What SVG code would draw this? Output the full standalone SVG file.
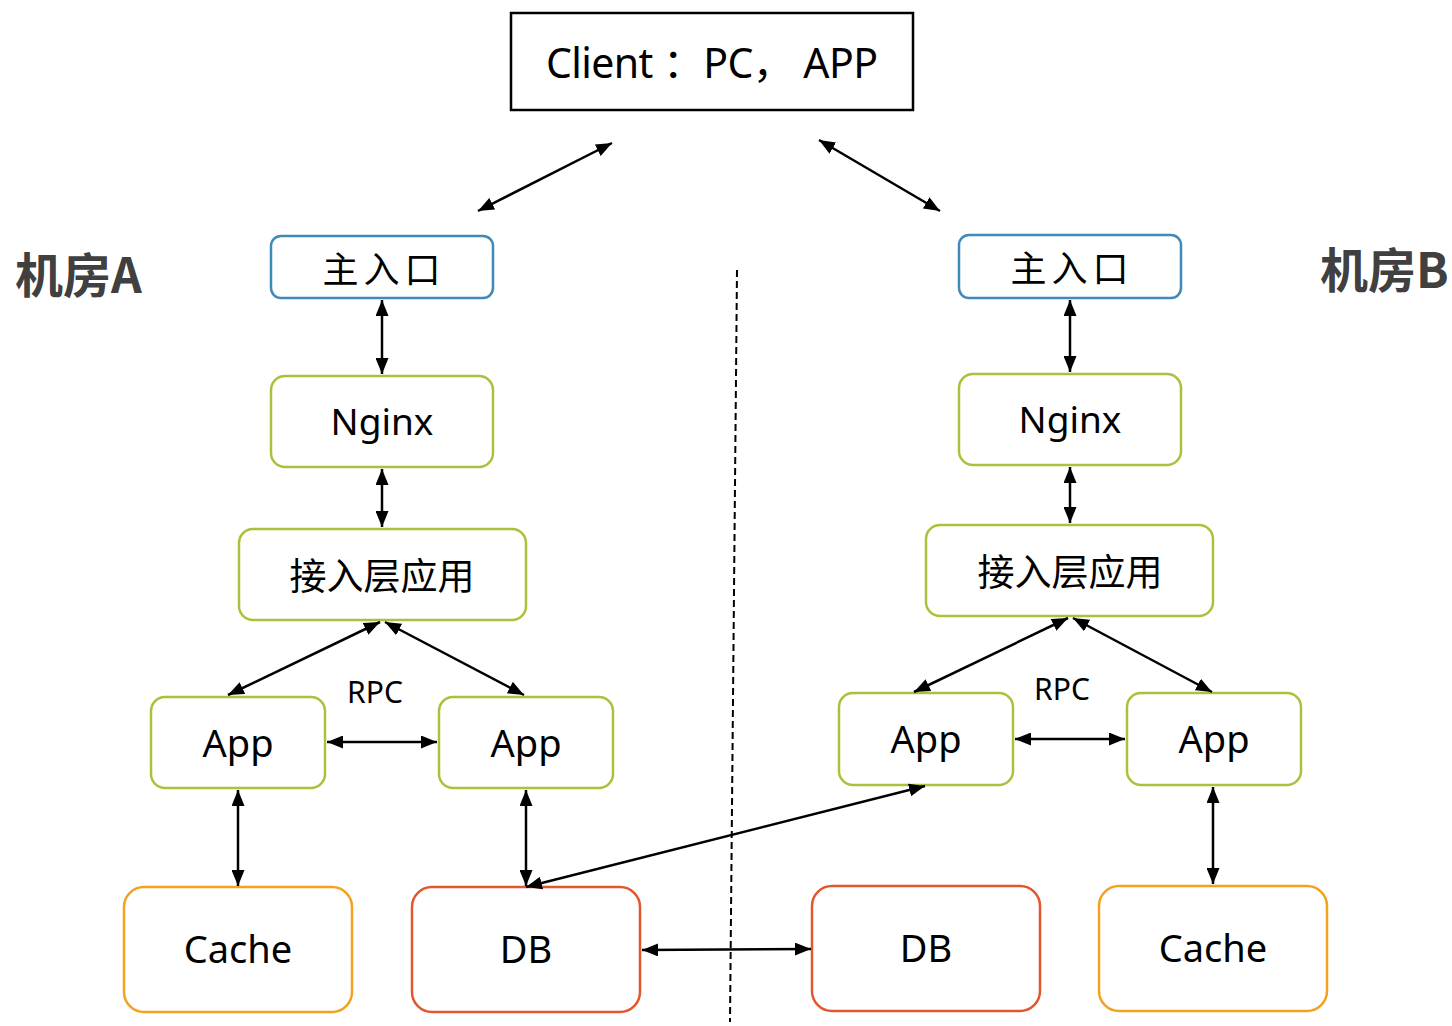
<svg xmlns="http://www.w3.org/2000/svg" width="1452" height="1026" viewBox="0 0 1452 1026">
<defs>
<marker id="ah" viewBox="0 0 16 13" refX="16" refY="6.5" markerWidth="16" markerHeight="13" markerUnits="userSpaceOnUse" orient="auto-start-reverse">
<path d="M0,0 L16,6.5 L0,13 Z" fill="#000"/>
</marker>
<style>
.t{font-family:"Noto Sans","Noto Sans CJK SC",sans-serif;fill:#000;text-anchor:middle}
.lbl{font-family:"Noto Sans CJK SC","Noto Sans",sans-serif;font-weight:bold;fill:#404040;font-size:48px}
.blue{fill:#fff;stroke:#3f8ab8;stroke-width:2.5}
.green{fill:#fff;stroke:#a9c23c;stroke-width:2.5}
.orange{fill:#fff;stroke:#f2a21e;stroke-width:2.5}
.red{fill:#fff;stroke:#e2572e;stroke-width:2.5}
.c line{stroke:#000;stroke-width:2.5;marker-start:url(#ah);marker-end:url(#ah)}
</style>
</defs>
<rect width="1452" height="1026" fill="#fff"/>
<line x1="737" y1="270" x2="730" y2="1022" stroke="#000" stroke-width="2" stroke-dasharray="7,4"/>
<text class="lbl" x="15" y="293">机房A</text>
<text class="lbl" x="1320" y="288">机房B</text>
<g id="client"><rect x="511" y="13" width="402" height="97" fill="#fff" stroke="#000" stroke-width="2.5"/><text class="t" x="712" y="78" font-size="41" textLength="332" lengthAdjust="spacing">Client ：PC， APP</text></g>
<g id="entryA"><rect class="blue" x="271" y="236" width="222" height="62" rx="10"/><text class="t" x="384" y="283" font-size="36" letter-spacing="5">主入口</text></g>
<g id="nginxA"><rect class="green" x="271" y="376" width="222" height="91" rx="14"/><text class="t" x="382" y="435" font-size="37">Nginx</text></g>
<g id="accessA"><rect class="green" x="239" y="529" width="287" height="91" rx="14"/><text class="t" x="382" y="590" font-size="37">接入层应用</text></g>
<g id="appA1"><rect class="green" x="151" y="697" width="174" height="91" rx="14"/><text class="t" x="238" y="757" font-size="38">App</text></g>
<g id="appA2"><rect class="green" x="439" y="697" width="174" height="91" rx="14"/><text class="t" x="526" y="757" font-size="38">App</text></g>
<text class="t" x="375" y="703" font-size="30">RPC</text>
<g id="cacheA"><rect class="orange" x="124" y="887" width="228" height="125" rx="20"/><text class="t" x="238" y="963" font-size="38">Cache</text></g>
<g id="dbA"><rect class="red" x="412" y="887" width="228" height="125" rx="20"/><text class="t" x="526" y="963" font-size="38">DB</text></g>
<g id="entryB"><rect class="blue" x="959" y="235" width="222" height="63" rx="10"/><text class="t" x="1072" y="282" font-size="36" letter-spacing="5">主入口</text></g>
<g id="nginxB"><rect class="green" x="959" y="374" width="222" height="91" rx="14"/><text class="t" x="1070" y="433" font-size="37">Nginx</text></g>
<g id="accessB"><rect class="green" x="926" y="525" width="287" height="91" rx="14"/><text class="t" x="1070" y="586" font-size="37">接入层应用</text></g>
<g id="appB1"><rect class="green" x="839" y="693" width="174" height="92" rx="14"/><text class="t" x="926" y="753" font-size="38">App</text></g>
<g id="appB2"><rect class="green" x="1127" y="693" width="174" height="92" rx="14"/><text class="t" x="1214" y="753" font-size="38">App</text></g>
<text class="t" x="1062" y="700" font-size="30">RPC</text>
<g id="dbB"><rect class="red" x="812" y="886" width="228" height="125" rx="20"/><text class="t" x="926" y="962" font-size="38">DB</text></g>
<g id="cacheB"><rect class="orange" x="1099" y="886" width="228" height="125" rx="20"/><text class="t" x="1213" y="962" font-size="38">Cache</text></g>
<g id="connectors" class="c">
<line x1="478" y1="211" x2="612" y2="143"/>
<line x1="819" y1="140" x2="940" y2="211"/>
<line x1="382" y1="300" x2="382" y2="374"/>
<line x1="382" y1="469" x2="382" y2="527"/>
<line x1="380" y1="622" x2="228" y2="695"/>
<line x1="385" y1="622" x2="524" y2="695"/>
<line x1="327" y1="742" x2="437" y2="742"/>
<line x1="238" y1="790" x2="238" y2="886"/>
<line x1="526" y1="790" x2="526" y2="886"/>
<line x1="526" y1="887" x2="925" y2="786"/>
<line x1="642" y1="950" x2="811" y2="949"/>
<line x1="1070" y1="300" x2="1070" y2="372"/>
<line x1="1070" y1="467" x2="1070" y2="523"/>
<line x1="1068" y1="618" x2="914" y2="692"/>
<line x1="1073" y1="618" x2="1212" y2="692"/>
<line x1="1015" y1="739" x2="1125" y2="739"/>
<line x1="1213" y1="787" x2="1213" y2="884"/>
</g>
</svg>
